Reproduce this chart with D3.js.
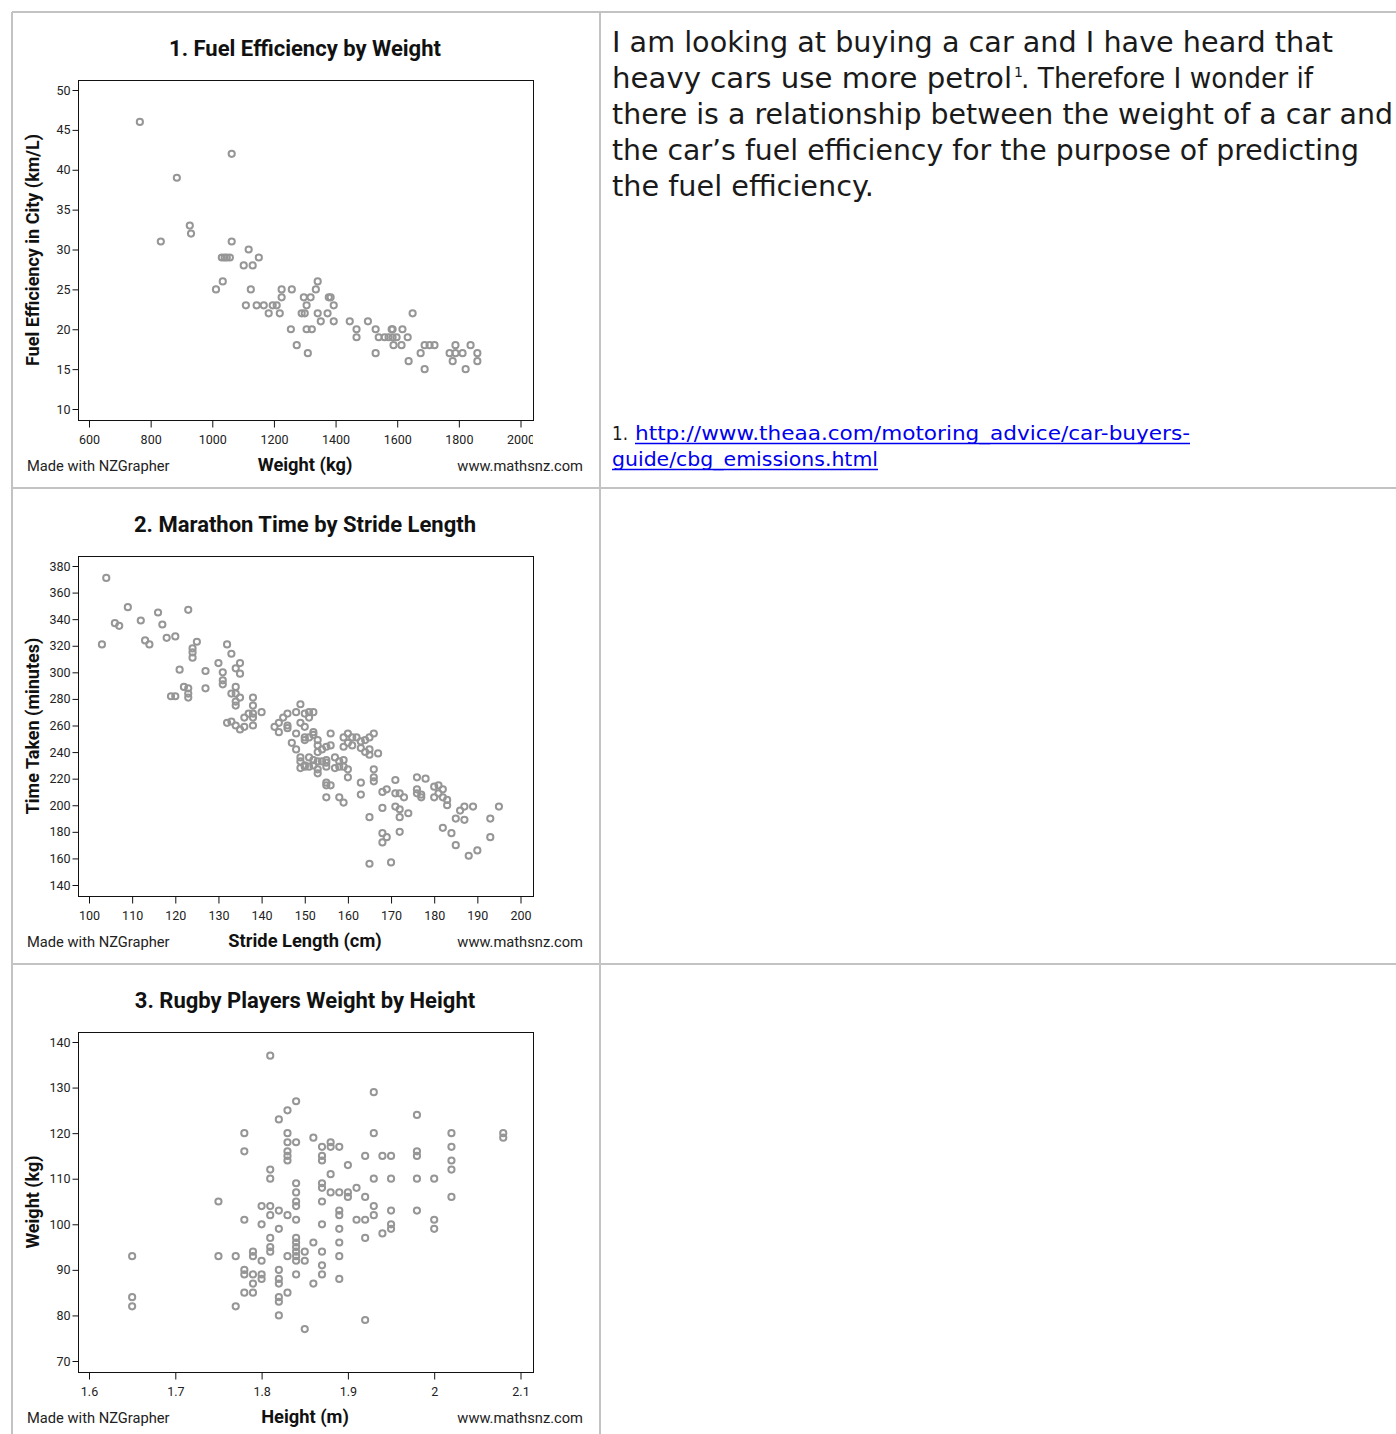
<!DOCTYPE html>
<html><head><meta charset="utf-8">
<script src="https://cdn.jsdelivr.net/npm/d3@7"></script>
<style>body{margin:0;background:#fff}</style>
</head><body>
<svg id="c" width="1396" height="1434"></svg>
<script>
// ---------- Chart 1: Fuel efficiency by weight ----------
const carWeightKg = [
  765,1063,885,927,931,833,1063,1118,1031,1040,
  1047,1057,1151,1102,1131,1034,1342,1012,1125,1225,
  1258,1336,1225,1297,1319,1378,1384,1109,1144,1167,
  1196,1209,1306,1394,1183,1219,1290,1300,1342,1374,
  1650,1352,1394,1446,1505,1255,1306,1323,1468,1530,
  1582,1585,1617,1468,1540,1559,1572,1585,1598,1634,
  1274,1588,1614,1689,1705,1721,1789,1838,1310,1530,
  1676,1770,1789,1812,1860,1637,1780,1860,1689,1822];
const cityKmPerL = [
  46,42,39,33,32,31,31,30,29,29,
  29,29,29,28,28,26,26,25,25,25,
  25,25,24,24,24,24,24,23,23,23,
  23,23,23,23,22,22,22,22,22,22,
  22,21,21,21,21,20,20,20,20,20,
  20,20,20,19,19,19,19,19,19,19,
  18,18,18,18,18,18,18,18,17,17,
  17,17,17,17,17,16,16,16,15,15];
const fuelXTicks = [600,800,1000,1200,1400,1600,1800,2000];
const fuelYTicks = [10,15,20,25,30,35,40,45,50];

// ---------- Chart 2: Marathon time by stride length ----------
const strideCm = [
  104,109,116,123,106,107,112,117,103,113,
  114,118,120,125,124,124,124,132,133,121,
  127,130,131,135,134,135,131,131,122,123,
  123,123,119,120,127,134,133,134,135,134,
  134,138,138,140,136,137,138,138,132,133,
  134,135,136,138,143,144,145,146,148,144,
  146,148,149,150,151,152,151,146,149,150,
  152,152,153,150,150,151,147,148,156,153,
  153,154,155,156,159,160,161,162,160,159,
  161,163,164,165,166,163,164,165,165,167,
  149,151,149,150,152,153,152,149,150,151,
  153,153,154,155,155,155,157,158,159,158,
  159,157,160,160,155,156,155,155,158,159,
  163,166,166,166,163,171,169,168,171,168,
  171,172,165,172,173,174,172,176,178,176,
  176,177,177,180,181,182,180,181,182,183,
  183,168,169,168,172,165,170,186,187,189,
  185,187,182,184,185,188,190,193,195,193];
const timeMinutes = [
  371,349,345,347,337,335,339,336,321,324,
  321,326,327,323,318,315,311,321,314,302,
  301,307,300,307,303,299,294,291,289,288,
  284,281,282,282,288,289,284,284,281,278,
  275,281,275,270,266,269,266,269,262,263,
  260,257,259,260,259,262,266,269,270,255,
  258,254,276,269,270,270,266,260,262,259,
  255,253,249,251,249,251,247,242,254,245,
  240,242,244,245,251,254,251,251,247,244,
  245,248,249,251,254,243,240,238,242,239,
  236,236,233,230,234,233,230,228,229,229,
  227,224,233,234,232,229,236,233,234,229,
  229,228,227,221,217,215,215,206,206,202,
  217,227,221,218,208,219,212,210,209,198,
  199,197,191,209,206,194,191,221,220,212,
  209,208,206,214,215,212,206,209,206,204,
  200,179,176,172,180,156,157,196,199,199,
  190,189,183,179,170,162,166,190,199,176];
const strideXTicks = [100,110,120,130,140,150,160,170,180,190,200];
const timeYTicks = [140,160,180,200,220,240,260,280,300,320,340,360,380];

// ---------- Chart 3: Rugby players weight by height ----------
const heightM = [
  1.81,1.84,1.83,1.82,1.78,1.78,1.83,1.83,1.84,1.83,
  1.83,1.83,1.86,1.87,1.88,1.88,1.89,1.87,1.87,1.81,
  1.81,1.84,1.84,1.84,1.84,1.87,1.87,1.88,1.88,1.87,
  1.75,1.80,1.81,1.82,1.81,1.83,1.84,1.78,1.80,1.87,
  1.82,1.81,1.81,1.81,1.84,1.84,1.84,1.84,1.86,1.87,
  1.65,1.75,1.77,1.79,1.79,1.80,1.83,1.84,1.84,1.85,
  1.85,1.87,1.87,1.78,1.78,1.79,1.80,1.80,1.79,1.82,
  1.82,1.82,1.84,1.86,1.78,1.79,1.82,1.82,1.83,1.65,
  1.65,1.77,1.82,1.85,1.93,1.98,1.93,2.02,2.08,2.08,
  1.90,1.92,1.94,1.95,1.98,1.98,2.02,2.02,2.02,1.93,
  1.95,1.98,2.00,1.89,1.90,1.90,1.91,1.92,2.02,1.93,
  1.89,1.89,1.93,1.95,1.98,1.91,1.92,1.95,1.95,2.00,
  2.00,1.89,1.94,1.92,1.89,1.89,1.89,1.92];
const playerWeightKg = [
  137,127,125,123,120,116,120,118,118,116,
  115,114,119,117,118,117,117,115,114,112,
  110,109,107,105,104,109,108,111,107,105,
  105,104,104,103,102,102,101,101,100,100,
  99,97,95,94,97,96,95,94,96,94,
  93,93,93,94,93,92,93,93,92,94,
  92,91,89,90,89,89,89,88,87,90,
  88,87,89,87,85,85,84,83,85,84,
  82,82,80,77,129,124,120,120,120,119,
  113,115,115,115,116,115,117,114,112,110,
  110,110,110,107,107,106,108,106,106,104,
  103,102,102,103,103,101,101,100,99,101,
  99,99,98,97,96,93,88,79];
const heightXTicks = [1.6,1.7,1.8,1.9,2.0,2.1];
const weightYTicks = [70,80,90,100,110,120,130,140];

// ---------- Text ----------
const introLines = [
  "I am looking at buying a car and I have heard that",
  "heavy cars use more petrol",
  "there is a relationship between the weight of a car and",
  "the car\u2019s fuel efficiency for the purpose of predicting",
  "the fuel efficiency."
];
const introLine2Rest = ". Therefore I wonder if";
const footnoteLink = ["http://www.theaa.com/motoring_advice/car-buyers-", "guide/cbg_emissions.html"];

const svg = d3.select('#c');
const F = 'Roboto, "Liberation Sans", sans-serif';

// table borders
const border = '#c3c3c3';
[[12,12,1396,12],[12,12,12,1434],[600,12,600,1434],[12,488,1396,488],[12,964,1396,964]].forEach(l=>{
  svg.append('line').attr('x1',l[0]).attr('y1',l[1]).attr('x2',l[2]).attr('y2',l[3])
    .attr('stroke',border).attr('stroke-width',2);
});

svg.append('defs').append('clipPath').attr('id','xclip')
  .append('rect').attr('x',0).attr('y',0).attr('width',533).attr('height',1434);

function drawChart(c){
  const top = c.top;
  const g = svg.append('g');
  const x = d3.scaleLinear().domain(c.xDomain).range([89,520.5]);
  const y = d3.scaleLinear().domain(c.yDomain).range([top+397, top+78]);

  g.append('text').attr('x',305).attr('y',top+44).attr('text-anchor','middle')
    .attr('font-family',F).attr('font-weight','bold').attr('font-size',22).attr('fill','#111')
    .text(c.title);

  g.append('rect').attr('x',78.5).attr('y',top+68.5).attr('width',455).attr('height',340)
    .attr('fill','#fff').attr('stroke','#111').attr('stroke-width',1);

  const ya = g.append('g').attr('transform','translate(78.5,0)')
    .call(d3.axisLeft(y).tickValues(c.yTicks).tickSize(6).tickPadding(2).tickFormat(d3.format('d')));
  ya.select('.domain').remove();
  ya.selectAll('text').attr('font-family',F).attr('font-size',12.5).attr('fill','#222');
  ya.selectAll('line').attr('stroke','#111');

  const xa = g.append('g').attr('transform',`translate(0,${top+408.5})`).attr('clip-path','url(#xclip)')
    .call(d3.axisBottom(x).tickValues(c.xTicks).tickSize(7).tickPadding(8).tickFormat(c.xFormat));
  xa.select('.domain').remove();
  xa.selectAll('text').attr('font-family',F).attr('font-size',12.5).attr('fill','#222');
  xa.selectAll('line').attr('stroke','#111');

  g.append('text').attr('transform',`translate(39,${top+238}) rotate(-90)`).attr('text-anchor','middle')
    .attr('font-family',F).attr('font-weight','bold').attr('font-size',18).attr('fill','#111')
    .text(c.yLabel);

  g.append('text').attr('x',305).attr('y',top+459).attr('text-anchor','middle')
    .attr('font-family',F).attr('font-weight','bold').attr('font-size',18.3).attr('fill','#111')
    .text(c.xLabel);
  g.append('text').attr('x',27).attr('y',top+459)
    .attr('font-family',F).attr('font-size',14.7).attr('fill','#222').text('Made with NZGrapher');
  g.append('text').attr('x',583).attr('y',top+459).attr('text-anchor','end')
    .attr('font-family',F).attr('font-size',14.7).attr('fill','#222').text('www.mathsnz.com');

  const pts = c.xs.map((v,i)=>[v,c.ys[i]]);
  g.append('g').selectAll('circle').data(pts).join('circle')
    .attr('cx',d=>x(d[0])).attr('cy',d=>y(d[1])).attr('r',3.1)
    .attr('fill','none').attr('stroke','#969696').attr('stroke-width',2);
}

drawChart({top:12, title:'1. Fuel Efficiency by Weight', xLabel:'Weight (kg)',
  yLabel:'Fuel Efficiency in City (km/L)', xDomain:[600,2000], yDomain:[10,50],
  xTicks:fuelXTicks, yTicks:fuelYTicks, xFormat:d3.format('d'), xs:carWeightKg, ys:cityKmPerL});
drawChart({top:488, title:'2. Marathon Time by Stride Length', xLabel:'Stride Length (cm)',
  yLabel:'Time Taken (minutes)', xDomain:[100,200], yDomain:[140,380],
  xTicks:strideXTicks, yTicks:timeYTicks, xFormat:d3.format('d'), xs:strideCm, ys:timeMinutes});
drawChart({top:964, title:'3. Rugby Players Weight by Height', xLabel:'Height (m)',
  yLabel:'Weight (kg)', xDomain:[1.6,2.1], yDomain:[70,140],
  xTicks:heightXTicks, yTicks:weightYTicks, xFormat:d=>String(+d.toFixed(1)), xs:heightM, ys:playerWeightKg});

// ---------- Right column text ----------
const TF = '"DejaVu Sans", sans-serif';
const lineWidths = [721, 400, 781, 747, 262];
introLines.forEach((t,i)=>{
  svg.append('text').attr('x',612).attr('y',52+36*i)
    .attr('font-family',TF).attr('font-size',28).attr('fill','#1a1a1a')
    .attr('textLength',lineWidths[i]).attr('lengthAdjust','spacingAndGlyphs').text(t);
});
svg.append('text').attr('x',1014).attr('y',77).attr('font-family',TF).attr('font-size',14)
  .attr('fill','#1a1a1a').text('1');
svg.append('text').attr('x',1021).attr('y',88).attr('font-family',TF).attr('font-size',28)
  .attr('fill','#1a1a1a').attr('textLength',292).attr('lengthAdjust','spacingAndGlyphs').text(introLine2Rest);

svg.append('text').attr('x',612).attr('y',440).attr('font-family',TF).attr('font-size',20)
  .attr('fill','#1a1a1a').attr('textLength',16).attr('lengthAdjust','spacingAndGlyphs').text('1.');
const linkX = [635, 612], linkW = [555, 266], linkY = [440, 466];
footnoteLink.forEach((t,i)=>{
  svg.append('text').attr('x',linkX[i]).attr('y',linkY[i]).attr('font-family',TF).attr('font-size',20)
    .attr('fill','#0000ee').attr('textLength',linkW[i]).attr('lengthAdjust','spacingAndGlyphs').text(t);
  svg.append('line').attr('x1',linkX[i]).attr('x2',linkX[i]+linkW[i]).attr('y1',linkY[i]+3.5).attr('y2',linkY[i]+3.5)
    .attr('stroke','#0000ee').attr('stroke-width',1.3);
});
</script>
</body></html>
